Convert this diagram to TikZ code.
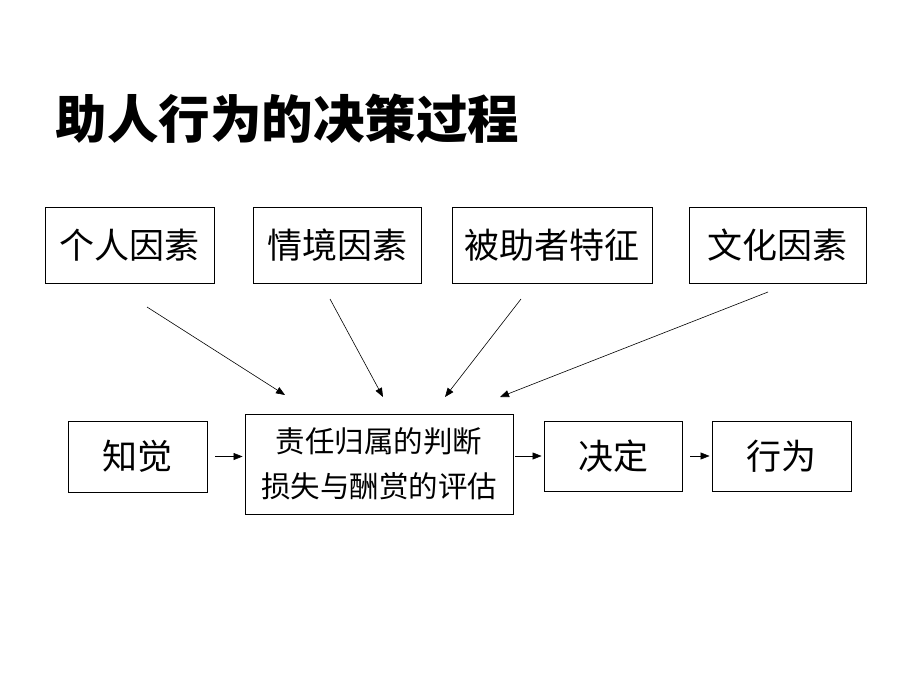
\documentclass[tikz,border=0pt]{standalone}
\usepackage{fontspec}
\newfontfamily\cjk{Noto Sans CJK SC}
\usetikzlibrary{arrows.meta}
\tikzset{
	factor/.style={draw, line width=0.9pt, inner sep=0pt, minimum height=76pt, font=\cjk\fontsize{35}{38}\selectfont},
	stage/.style={draw, line width=0.9pt, inner sep=0pt, minimum height=70pt, font=\cjk\fontsize{35}{38}\selectfont},
	flow/.style={-{Triangle[length=9pt,width=7pt]}, line width=0.6pt},
}
\begin{document}
\begin{tikzpicture}[x=1pt, y=-1pt]
	\useasboundingbox (0,0) rectangle (920,690);
	% title
	\node[anchor=west, font=\cjk\bfseries\fontsize{51.5}{56}\selectfont] (title) at (52,119) {助人行为的决策过程};
	% factors
	\node[factor, minimum width=169pt] (personal) at (129.5,245) {个人因素};
	\node[factor, minimum width=168pt] (situation) at (337,245) {情境因素};
	\node[factor, minimum width=200pt] (helped) at (552,245) {被助者特征};
	\node[factor, minimum width=177pt] (culture) at (777.5,245) {文化因素};
	% process
	\node[stage, minimum width=139pt, minimum height=71pt] (perceive) at (137.5,456.5) {知觉};
	\node[stage, minimum width=268pt, minimum height=100pt, align=center,
		font=\cjk\fontsize{29.5}{45}\selectfont] (judge) at (379,464) {责任归属的判断\\损失与酬赏的评估};
	\node[stage, minimum width=138pt] (decide) at (613,456) {决定};
	\node[stage, minimum width=139pt] (act) at (781.5,456) {行为};
	% influences
	\coordinate (a1) at (147,307);
	\coordinate (b1) at (285,395);
	\coordinate (a2) at (330,299);
	\coordinate (b2) at (383,397);
	\coordinate (a3) at (521,299);
	\coordinate (b3) at (445,397);
	\coordinate (a4) at (768,292);
	\coordinate (b4) at (500,397);
	\foreach \i in {1,...,4}
		\draw[flow] (a\i) -- (b\i);
	% steps
	\draw[flow, shorten <=8pt, shorten >=2pt] (perceive.east) -- (perceive.east -| judge.west);
	\draw[flow, shorten <=2pt, shorten >=2pt] (judge.east |- decide.west) -- (decide.west);
	\draw[flow, shorten <=8pt, shorten >=2pt] (decide.east) -- (act.west);
\end{tikzpicture}
\end{document}
